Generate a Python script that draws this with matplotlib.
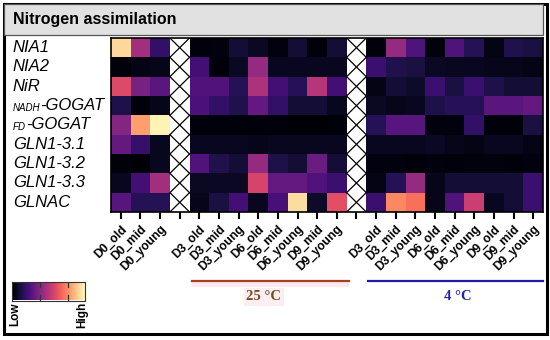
import numpy as np
import matplotlib.pyplot as plt
from matplotlib.patches import Rectangle
from matplotlib.lines import Line2D

W, H = 550, 340

genes = ["NIA1", "NIA2", "NiR", "NADH-GOGAT", "FD-GOGAT",
         "GLN1-3.1", "GLN1-3.2", "GLN1-3.3", "GLNAC"]
d0_labels = ["D0_old", "D0_mid", "D0_young"]
t25_labels = ["D3_old", "D3_mid", "D3_young", "D6_old", "D6_mid",
              "D6_young", "D9_mid", "D9_young"]
t4_labels = ["D3_old", "D3_mid", "D3_young", "D6_old", "D6_mid",
             "D6_young", "D9_old", "D9_mid", "D9_young"]

# relative expression (0 = low, 1 = high), rows follow genes
d0_vals = [
    [0.92, 0.45, 0.18],
    [0.02, 0.04, 0.05],
    [0.60, 0.35, 0.28],
    [0.13, 0.02, 0.05],
    [0.38, 0.80, 0.98],
    [0.30, 0.19, 0.06],
    [0.02, 0.01, 0.06],
    [0.06, 0.22, 0.45],
    [0.27, 0.15, 0.15],
]
t25_vals = [
    [0.02, 0.03, 0.10, 0.07, 0.03, 0.10, 0.02, 0.10],
    [0.22, 0.02, 0.07, 0.42, 0.06, 0.06, 0.06, 0.06],
    [0.25, 0.25, 0.15, 0.48, 0.22, 0.15, 0.50, 0.22],
    [0.24, 0.18, 0.14, 0.30, 0.18, 0.10, 0.10, 0.06],
    [0.02, 0.02, 0.02, 0.02, 0.02, 0.01, 0.01, 0.02],
    [0.06, 0.06, 0.06, 0.05, 0.06, 0.06, 0.06, 0.06],
    [0.25, 0.14, 0.10, 0.42, 0.13, 0.10, 0.32, 0.10],
    [0.07, 0.07, 0.07, 0.58, 0.30, 0.30, 0.25, 0.20],
    [0.05, 0.12, 0.22, 0.06, 0.23, 0.93, 0.08, 0.62],
]
t4_vals = [
    [0.02, 0.42, 0.25, 0.03, 0.25, 0.15, 0.04, 0.14, 0.12],
    [0.20, 0.14, 0.12, 0.07, 0.06, 0.06, 0.05, 0.05, 0.04],
    [0.04, 0.10, 0.08, 0.20, 0.12, 0.20, 0.13, 0.10, 0.10],
    [0.07, 0.05, 0.06, 0.13, 0.15, 0.15, 0.28, 0.28, 0.30],
    [0.15, 0.27, 0.27, 0.03, 0.03, 0.18, 0.02, 0.02, 0.12],
    [0.06, 0.06, 0.06, 0.07, 0.05, 0.04, 0.06, 0.06, 0.04],
    [0.03, 0.03, 0.02, 0.03, 0.02, 0.03, 0.03, 0.02, 0.03],
    [0.04, 0.15, 0.42, 0.05, 0.10, 0.10, 0.10, 0.10, 0.20],
    [0.20, 0.75, 0.70, 0.05, 0.25, 0.55, 0.06, 0.10, 0.20],
]


def fx(x):
    return x / W


def fy(y):
    return 1 - y / H


gap = np.full((len(genes), 1), np.nan)
mat = np.hstack([np.array(d0_vals), gap, np.array(t25_vals), gap, np.array(t4_vals)])
col_labels = d0_labels + [""] + t25_labels + [""] + t4_labels
gap_cols = [len(d0_labels), len(d0_labels) + 1 + len(t25_labels)]

fig = plt.figure(figsize=(W / 100, H / 100), dpi=100)

# outer frame and title bar
fig.patches.append(Rectangle((fx(4), fy(334)), fx(543), 330 / H, transform=fig.transFigure,
                             fill=False, edgecolor="black", linewidth=2.2))
fig.patches.append(Rectangle((fx(4), fy(35)), fx(539), 31 / H, transform=fig.transFigure,
                             facecolor="#e1e1e1", edgecolor="#555555", linewidth=0.9))
fig.text(fx(13), fy(19.5), "Nitrogen assimilation", fontsize=11.5, fontweight="bold",
         family="Liberation Sans", va="center", ha="left")

ax = fig.add_axes([fx(111), fy(212), fx(543) - fx(111), fy(38) - fy(212)])
cmap = plt.get_cmap("magma").copy()
cmap.set_bad("white")
ax.imshow(mat, cmap=cmap, vmin=0, vmax=1, aspect="auto", interpolation="nearest")

for c in gap_cols:
    for r in range(len(genes)):
        ax.plot([c - 0.5, c + 0.5], [r - 0.5, r + 0.5], color="black", lw=0.9)
        ax.plot([c - 0.5, c + 0.5], [r + 0.5, r - 0.5], color="black", lw=0.9)

ax.set_xlim(-0.5, mat.shape[1] - 0.5)
ax.set_ylim(len(genes) - 0.5, -0.5)
ax.set_xticks(range(mat.shape[1]))
ax.set_xticklabels(col_labels, rotation=45, ha="right", va="top", rotation_mode="anchor",
                   fontsize=8.7, fontweight="bold", family="Liberation Sans")
ax.tick_params(axis="x", length=5, width=1.5, pad=3)
ax.set_yticks([])
for s in ax.spines.values():
    s.set_linewidth(1.2)

# gene labels
ytr = ax.get_yaxis_transform()
lx = (12.7 - 111) / 432
for r, g in enumerate(genes):
    if g.startswith("NADH-") or g.startswith("FD-"):
        pre, rest = g.split("-", 1)
        off = (40 - 111) / 432 if pre == "NADH" else (26 - 111) / 432
        ax.text(lx, r + 0.12, pre, transform=ytr, fontsize=7, style="italic",
                family="Liberation Sans", ha="left", va="center")
        ax.text(off, r, "-" + rest, transform=ytr, fontsize=12, style="italic",
                family="Liberation Sans", ha="left", va="center")
    else:
        ax.text(lx, r, g, transform=ytr, fontsize=12, style="italic",
                family="Liberation Sans", ha="left", va="center")

# temperature groups
fig.patches.append(Rectangle((fx(192), fy(287)), fx(157), 6 / H, transform=fig.transFigure,
                             facecolor="#fde9f1", edgecolor="none"))
fig.lines.append(Line2D([fx(192), fx(349)], [fy(281), fy(281)], transform=fig.transFigure,
                        color="#a8401f", lw=1.6))
fig.text(fx(264), fy(297), "25 °C", fontsize=10.5, fontweight="bold", family="Liberation Serif",
         color="#7b4a1c", ha="center", va="center",
         bbox=dict(facecolor="#fdeef4", edgecolor="none", pad=2))
fig.lines.append(Line2D([fx(368), fx(543)], [fy(281), fy(281)], transform=fig.transFigure,
                        color="#1c1ca5", lw=1.6))
fig.text(fx(458), fy(297), "4 °C", fontsize=10.5, fontweight="bold", family="Liberation Serif",
         color="#2222a8", ha="center", va="center")

# colour key
cax = fig.add_axes([fx(12), fy(300.5), fx(73), 18.5 / H])
cax.imshow(np.linspace(0, 1, 256)[None, :], cmap="magma", aspect="auto",
           extent=[0, 1, 0, 1])
for t in (0.39, 0.77):
    cax.plot([t, t], [1, 0.72], color="#333333", lw=0.9)
    cax.plot([t, t], [0, 0.28], color="#333333", lw=0.9)
cax.set_xlim(0, 1)
cax.set_ylim(0, 1)
cax.set_xticks([])
cax.set_yticks([])
for s in cax.spines.values():
    s.set_linewidth(0.8)
    s.set_color("#333333")
fig.text(fx(15), fy(302), "Low", rotation=90, fontsize=8.5, fontweight="bold",
         family="Liberation Sans", ha="center", va="top")
fig.text(fx(82), fy(302), "High", rotation=90, fontsize=8.5, fontweight="bold",
         family="Liberation Sans", ha="center", va="top")

fig.savefig("out.png", dpi=100)
